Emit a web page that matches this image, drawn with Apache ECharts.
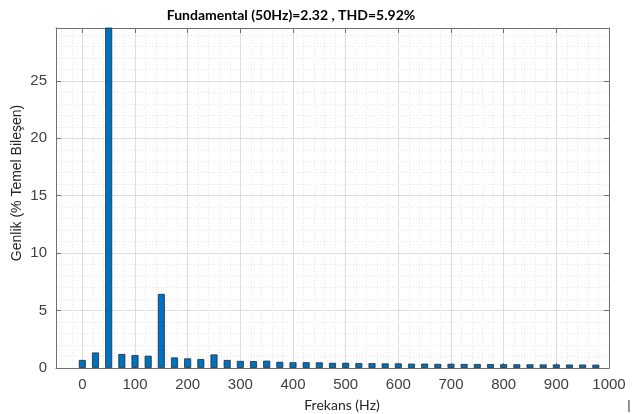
<!DOCTYPE html>
<html><head><meta charset="utf-8">
<script src="https://cdn.jsdelivr.net/npm/echarts@6/dist/echarts.min.js"></script>
<style>html,body{margin:0;padding:0;background:#fff}#c{width:641px;height:414px}</style>
</head><body><div id="c"></div>
<script>
const titleText = 'Fundamental (50Hz)=2.32 , THD=5.92%';
const xName = 'Frekans (Hz)';
const yName = 'Genlik (% Temel Bileşen)';
const freqs = [0,25,50,75,100,125,150,175,200,225,250,275,300,325,350,375,400,425,450,475,500,525,550,575,600,625,650,675,700,725,750,775,800,825,850,875,900,925,950,975];
const amps = [0.7,1.35,100,1.22,1.13,1.07,6.45,0.92,0.84,0.78,1.18,0.70,0.62,0.60,0.64,0.54,0.50,0.50,0.49,0.45,0.45,0.42,0.42,0.40,0.40,0.38,0.38,0.36,0.36,0.35,0.34,0.34,0.33,0.32,0.32,0.31,0.31,0.30,0.30,0.29];
const xMin = -50, xMax = 1000, yMin = 0, yMax = 29.6;

const chart = echarts.init(document.getElementById('c'), null, {renderer:'canvas'});
const axisCol = '#707070';
const labCol = '#262626';
chart.setOption({
  animation:false,
  title:{text:titleText,left:286,top:3,textAlign:'center',
    textStyle:{fontFamily:'Lato',fontWeight:'bold',fontSize:14,color:'#000'}},
  grid:{left:56,right:32,top:28,bottom:46,containLabel:false,outerBoundsMode:'none'},
  xAxis:[{
    type:'value',min:xMin,max:xMax,splitNumber:10,
    axisLine:{show:true,onZero:false,lineStyle:{color:axisCol,width:1}},
    axisTick:{show:true,inside:true,length:5,lineStyle:{color:axisCol}},
    axisLabel:{showMinLabel:false,fontFamily:'Liberation Sans',fontSize:15,color:'#404040',margin:9,formatter:v=>String(v)},
    splitLine:{show:true,lineStyle:{color:'#dedede',width:1}},
    minorTick:{show:false,splitNumber:5},
    minorSplitLine:{show:true,lineStyle:{color:'#e6e6e6',type:[1,2],width:1}}
  },{
    type:'value',position:'top',min:xMin,max:xMax,splitNumber:10,
    axisLine:{show:true,onZero:false,lineStyle:{color:axisCol}},
    axisTick:{show:true,inside:true,length:5,lineStyle:{color:axisCol}},
    axisLabel:{show:false},splitLine:{show:false}
  }],
  yAxis:[{
    type:'value',min:yMin,max:yMax,interval:5,
    axisLine:{show:true,onZero:false,lineStyle:{color:axisCol}},
    axisTick:{show:true,inside:true,length:5,lineStyle:{color:axisCol}},
    axisLabel:{showMaxLabel:false,fontFamily:'Liberation Sans',fontSize:15,color:'#404040',margin:9},
    splitLine:{show:true,lineStyle:{color:'#dedede',width:1}},
    minorTick:{show:false,splitNumber:5},
    minorSplitLine:{show:true,lineStyle:{color:'#e6e6e6',type:[1,2],width:1}}
  },{
    type:'value',position:'right',min:yMin,max:yMax,interval:5,
    axisLine:{show:true,onZero:false,lineStyle:{color:axisCol}},
    axisTick:{show:true,inside:true,length:5,lineStyle:{color:axisCol}},
    axisLabel:{show:false},splitLine:{show:false}
  }],
  series:[{
    type:'bar',xAxisIndex:0,yAxisIndex:0,clip:true,
    barWidth:7,
    itemStyle:{color:'#0072BD',borderColor:'#1f2a3a',borderWidth:0.8},
    data:freqs.map((f,i)=>[f,amps[i]])
  }],
  graphic:[
    {type:'text',x:342,y:405,style:{text:xName,fontFamily:'Lato',fontSize:14,fill:labCol,align:'center',verticalAlign:'middle'}},
    {type:'text',x:17,y:183,rotation:Math.PI/2,style:{text:yName,fontFamily:'Liberation Sans',fontSize:14,fill:labCol,align:'center',verticalAlign:'middle'}},
    {type:'text',x:629,y:405,style:{text:'|',fontSize:13,fill:'#333',fontFamily:'Liberation Sans',align:'center',verticalAlign:'middle'}}
  ]
});
</script></body></html>
